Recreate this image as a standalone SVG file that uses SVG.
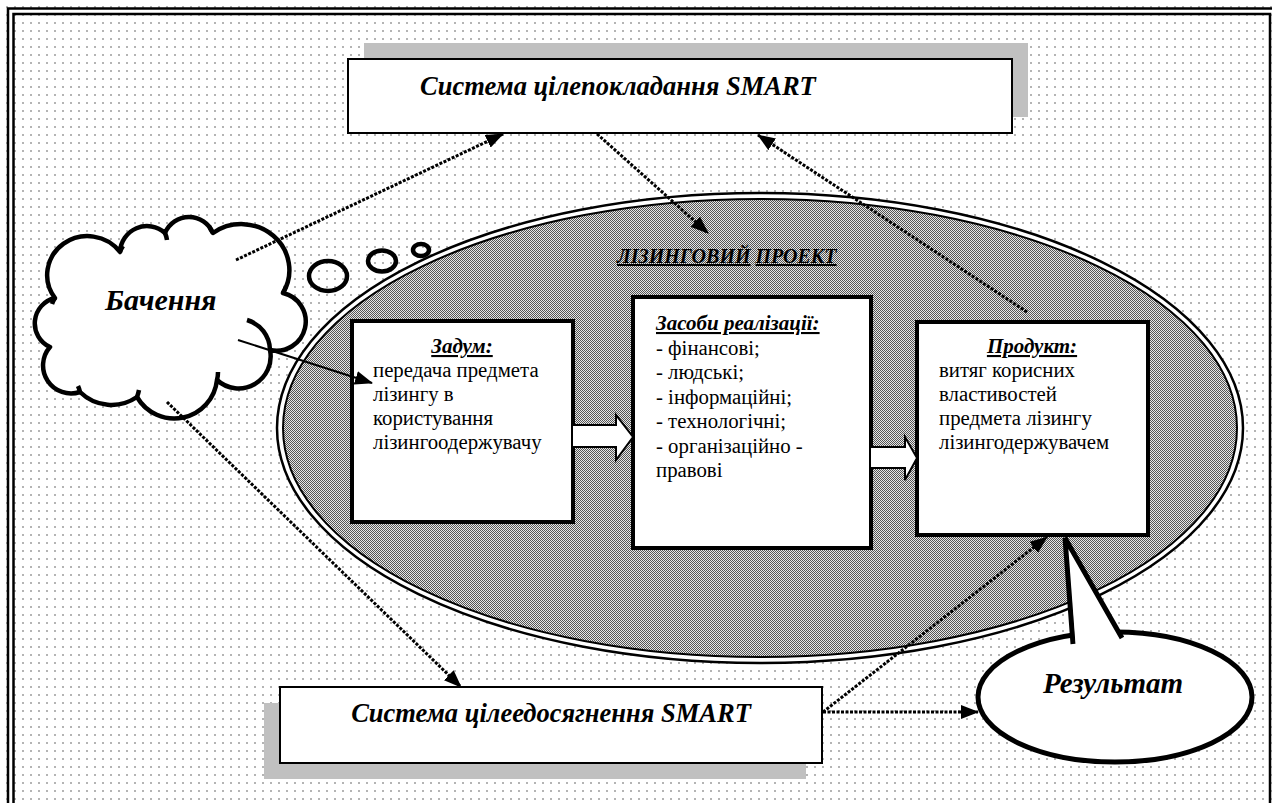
<svg xmlns="http://www.w3.org/2000/svg" width="1272" height="803" viewBox="0 0 1272 803">
  <defs>
    <pattern id="dots" x="0" y="0" width="8" height="8" patternUnits="userSpaceOnUse">
      <rect x="6" y="6" width="2" height="2" fill="#b4b4b4"/>
    </pattern>
    <pattern id="checker" x="0" y="0" width="2" height="2" patternUnits="userSpaceOnUse">
      <rect width="2" height="2" fill="#e6e6e6"/>
      <rect width="1" height="1" fill="#555"/>
      <rect x="1" y="1" width="1" height="1" fill="#555"/>
    </pattern>
    <marker id="head" markerUnits="userSpaceOnUse" markerWidth="18" markerHeight="14" refX="17" refY="7" orient="auto">
      <path d="M0,0 L18,7 L0,14 z" fill="#000"/>
    </marker>
    <style>
      text { font-family: "Liberation Serif", "DejaVu Serif", serif; fill: #000; }
      .bi { font-weight: bold; font-style: italic; }
      .rg { font-size: 20.8px; }
      .box { fill: #fff; stroke: #000; stroke-width: 2; }
      .stage { fill: #fff; stroke: #000; stroke-width: 4; }
      .shadow { fill: #c0c0c0; }
      .dotted { fill: none; stroke: #000; stroke-width: 3; stroke-dasharray: 3 1.5; }
      .solid { fill: none; stroke: #000; stroke-width: 2; }
      .block { fill: #fff; stroke: #000; stroke-width: 2; stroke-linejoin: miter; }
      .cloud { fill: #fff; stroke: #000; stroke-width: 4.5; stroke-linejoin: round; }
      .tick { fill: none; stroke: #000; stroke-width: 4.5; stroke-linecap: butt; }
      .bubble { fill: none; stroke: #000; stroke-width: 4.5; }
      .u { text-decoration: underline; }
    </style>
  </defs>

  <!-- page background with dotted texture and double frame -->
  <rect width="1272" height="803" fill="#fff"/>
  <rect x="6" y="6" width="1266" height="797" fill="url(#dots)"/>
  <g id="frame" fill="none" stroke="#000">
    <path d="M8,803 V8.5 H1272" stroke-width="2.5"/>
    <path d="M13.5,803 V14 H1270 V803" stroke-width="2.5"/>
  </g>

  <!-- project ellipse with double outline -->
  <g id="project">
    <ellipse cx="760" cy="428" rx="483" ry="235" fill="#fff" stroke="#000" stroke-width="2.5"/>
    <ellipse cx="760" cy="428" rx="477" ry="229" fill="url(#checker)" stroke="#000" stroke-width="2"/>
    <text class="bi" x="617" y="263" font-size="20"><tspan class="u">ЛІЗИНГОВИЙ</tspan> <tspan class="u">ПРОЕКТ</tspan></text>
  </g>

  <!-- goal-setting system -->
  <g id="goal-setting">
    <rect class="shadow" x="364" y="43" width="664" height="74"/>
    <rect class="box" x="348" y="59" width="664" height="74"/>
    <text class="bi" x="420" y="95" font-size="26.5">Система цілепокладання SMART</text>
  </g>

  <!-- goal-achievement system -->
  <g id="goal-achievement">
    <rect class="shadow" x="264" y="703" width="542" height="76"/>
    <rect class="box" x="280" y="687" width="542" height="76"/>
    <text class="bi" x="551" y="722" font-size="26.5" text-anchor="middle">Система цілеедосягнення SMART</text>
  </g>

  <!-- vision cloud -->
  <g id="vision">
    <path class="cloud" d="M55,298
      A27,26 0 0 1 120,252
      A27,27 0 0 1 165,233
      A26,26 0 0 1 213,233
      A48,46 0 0 1 283,293
      A29,29 0 0 1 270,350
      A32,32 0 0 1 217,380
      A43,43 0 0 1 137,397
      A45,45 0 0 1 80,392
      A28,28 0 0 1 50,347
      A26,26 0 0 1 55,298 z"/>
    <path class="tick" d="M247,320 A32,32 0 0 1 270,350"/>
    <path class="tick" d="M120,252 A27,26 0 0 1 123,246"/>
    <path class="tick" d="M165,233 A27,27 0 0 1 167,240"/>
    <path class="tick" d="M213,233 A26,26 0 0 1 209,226"/>
    <path class="tick" d="M283,293 A29,29 0 0 0 286,286"/>
    <path class="tick" d="M217,380 A32,32 0 0 0 218,372"/>
    <path class="tick" d="M137,397 A43,43 0 0 0 139,390"/>
    <path class="tick" d="M80,392 A28,28 0 0 0 78,386"/>
    <path class="tick" d="M55,298 A26,26 0 0 0 52,304"/>
    <text class="bi" x="105" y="310" font-size="30">Бачення</text>
    <ellipse class="bubble" cx="328" cy="276" rx="19" ry="15"/>
    <ellipse class="bubble" cx="382" cy="261" rx="14" ry="10.5"/>
    <ellipse class="bubble" cx="421" cy="250" rx="8" ry="6"/>
  </g>

  <!-- idea stage -->
  <g id="idea">
    <rect class="stage" x="352" y="321" width="221" height="201"/>
    <text class="bi u" x="462" y="353" font-size="21" text-anchor="middle">Задум:</text>
    <text class="rg" x="373" y="377">передача предмета</text>
    <text class="rg" x="373" y="401">лізингу в</text>
    <text class="rg" x="373" y="425">користування</text>
    <text class="rg" x="373" y="449">лізингоодержувачу</text>
  </g>

  <!-- means stage -->
  <g id="means">
    <rect class="stage" x="633" y="297" width="238" height="251"/>
    <text class="bi u" x="656" y="330" font-size="21">Засоби реалізації:</text>
    <text class="rg" x="656" y="355">- фінансові;</text>
    <text class="rg" x="656" y="379">- людські;</text>
    <text class="rg" x="656" y="404">- інформаційні;</text>
    <text class="rg" x="656" y="428">- технологічні;</text>
    <text class="rg" x="656" y="453">- організаційно -</text>
    <text class="rg" x="656" y="477">правові</text>
  </g>

  <!-- product stage -->
  <g id="product">
    <rect class="stage" x="917" y="322" width="231" height="213"/>
    <text class="bi u" x="1032" y="353" font-size="21" text-anchor="middle">Продукт:</text>
    <text class="rg" x="939" y="377">витяг корисних</text>
    <text class="rg" x="939" y="401">властивостей</text>
    <text class="rg" x="939" y="425">предмета лізингу</text>
    <text class="rg" x="939" y="449">лізингодержувачем</text>
  </g>

  <!-- result callout -->
  <g id="result">
    <ellipse cx="1115" cy="697" rx="137" ry="65" fill="#fff" stroke="#000" stroke-width="5"/>
    <path d="M1073,644 L1065,538 L1122,638" fill="#fff" stroke="#000" stroke-width="5" stroke-linejoin="miter"/>
    <path d="M1076,646 L1070,560 L1118,642 z" fill="#fff"/>
    <text class="bi" x="1043" y="693" font-size="29">Результат</text>
  </g>

  <!-- connectors -->
  <g id="connectors">
    <path class="block" d="M573,425 H616 V415 L633,437 L616,460 V447 H573"/>
    <path class="block" d="M871,447 H905 V437 L917,458 L905,480 V468 H871"/>
    <path class="dotted" d="M236,260 L503,134" marker-end="url(#head)"/>
    <path class="dotted" d="M597,134 L708,233" marker-end="url(#head)"/>
    <path class="dotted" d="M1027,312 L758,135" marker-end="url(#head)"/>
    <path class="dotted" d="M167,402 L461,687" marker-end="url(#head)"/>
    <path class="dotted" d="M823,712 L1047,537" marker-end="url(#head)"/>
    <path class="dotted" d="M823,712 L978,712" marker-end="url(#head)"/>
    <path class="solid" d="M238,340 L372,383" marker-end="url(#head)"/>
  </g>
</svg>
